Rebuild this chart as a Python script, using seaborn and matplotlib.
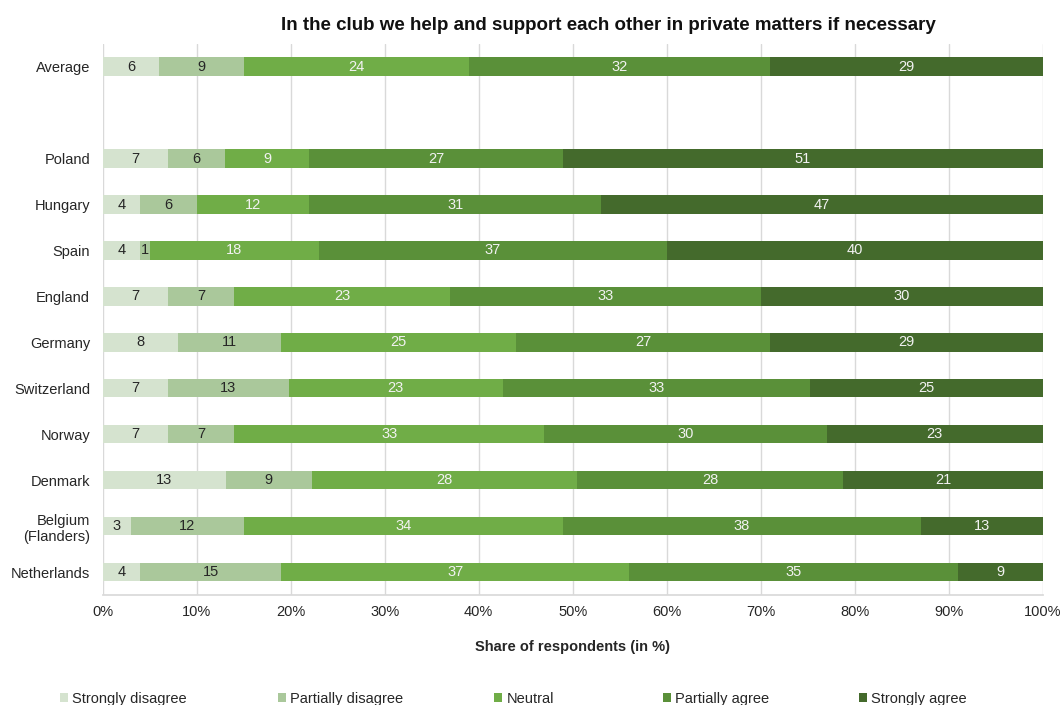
import numpy as np
import pandas as pd
import matplotlib
matplotlib.use("Agg")
import matplotlib.pyplot as plt
from matplotlib.patches import Patch
import seaborn as sns

# ── Data (shares in %, as printed on the bars) ────────────────────────────────
countries = ["Average", "Poland", "Hungary", "Spain", "England", "Germany",
             "Switzerland", "Norway", "Denmark", "Belgium\n(Flanders)", "Netherlands"]
answers = ["Strongly disagree", "Partially disagree", "Neutral",
           "Partially agree", "Strongly agree"]

strongly_disagree  = [6, 7, 4, 4, 7, 8, 7, 7, 13, 3, 4]
partially_disagree = [9, 6, 6, 1, 7, 11, 13, 7, 9, 12, 15]
neutral            = [24, 9, 12, 18, 23, 25, 23, 33, 28, 34, 37]
partially_agree    = [32, 27, 31, 37, 33, 27, 33, 30, 28, 38, 35]
strongly_agree     = [29, 51, 47, 40, 30, 29, 25, 23, 21, 13, 9]

colors = ["#d5e3cf", "#aac89b", "#70ad47", "#5a9039", "#446a2c"]
label_colors = ["#262626", "#262626", "#f2f2f2", "#f2f2f2", "#f2f2f2"]

# empty row between the average and the countries
order = ["Average", " "] + countries[1:]

# ── Build table: normalise each row to 100 % and stack ────────────────────────
df = pd.DataFrame(
    np.array([strongly_disagree, partially_disagree, neutral,
              partially_agree, strongly_agree]).T,
    columns=answers)
df["country"] = countries
share = df[answers].div(df[answers].sum(axis=1), axis=0) * 100
cum = share.cumsum(axis=1)
cum["country"] = countries

# ── Plot ──────────────────────────────────────────────────────────────────────
sns.set_theme(style="whitegrid")
plt.rcParams["font.family"] = ["Liberation Sans", "DejaVu Sans"]

fig = plt.figure(figsize=(10.64, 7.05), dpi=100)
ax = fig.add_axes([0.0965, 0.156, 0.8835, 0.782])

# cumulative bars drawn from the right-most segment down to the first
for ans, col in reversed(list(zip(answers, colors))):
    sns.barplot(data=cum, x=ans, y="country", order=order, orient="h",
                color=col, width=0.4, linewidth=0, errorbar=None,
                saturation=1, ax=ax)

# value labels in the middle of each segment
for i, c in enumerate(countries):
    ypos = order.index(c)
    for j, ans in enumerate(answers):
        mid = cum.loc[i, ans] - share.loc[i, ans] / 2
        ax.text(mid, ypos, str(df.loc[i, ans]), ha="center", va="center",
                fontsize=10.5, color=label_colors[j])

ax.set_xlim(0, 100)
ax.set_ylim(len(order) - 0.5, -0.5)
ax.set_xticks(np.arange(0, 101, 10))
ax.set_xticklabels([f"{t}%" for t in range(0, 101, 10)])
ax.grid(axis="x", color="#d9d9d9", linewidth=1)
ax.grid(axis="y", visible=False)
ax.set_axisbelow(True)
for s in ["top", "right", "left"]:
    ax.spines[s].set_visible(False)
ax.spines["bottom"].set_color("#d9d9d9")
ax.tick_params(axis="both", length=0, labelsize=10.5, colors="#262626")
ax.tick_params(axis="x", pad=7)
ax.tick_params(axis="y", pad=9)
ax.set_ylabel("")
ax.set_xlabel("Share of respondents (in %)", fontsize=10.5, fontweight="bold",
              color="#262626", labelpad=15)

fig.text(0.572, 0.964, "In the club we help and support each other in private matters if necessary",
         ha="center", va="center", fontsize=13.5, fontweight="bold", color="#111111")

# legend entries spread along the bottom like the original
legend_x = [0.0564, 0.2613, 0.4643, 0.6231, 0.8073]
for a, c, lx in zip(answers, colors, legend_x):
    fig.legend(handles=[Patch(facecolor=c, edgecolor="none", label=a)],
               loc="center left", bbox_to_anchor=(lx, 0.0085),
               frameon=False, fontsize=10.5, handlelength=0.55,
               handleheight=0.55, handletextpad=0.3, borderpad=0,
               borderaxespad=0)

fig.savefig("out.png", dpi=100)
